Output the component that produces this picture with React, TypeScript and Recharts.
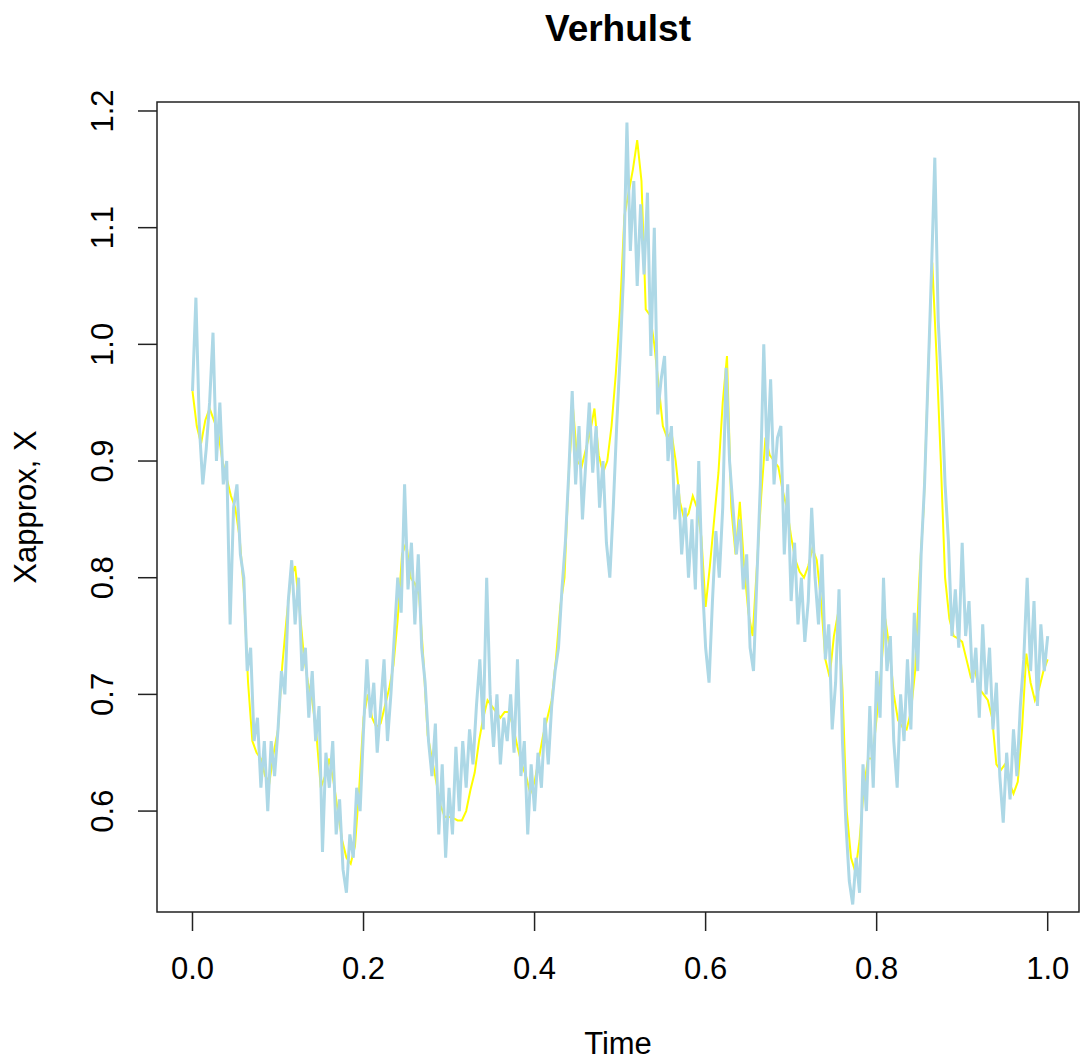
import React from "react";
import { LineChart, Line, XAxis, YAxis, ReferenceArea } from "recharts";

// Euler approximation (light blue), sampled on an even time grid from 0 to 1
const approxValues: number[] = [
  0.96, 1.04, 0.93, 0.88, 0.91, 0.95, 1.01, 0.9, 0.95, 0.88,
  0.9, 0.76, 0.86, 0.88, 0.82, 0.8, 0.72, 0.74, 0.66, 0.68,
  0.62, 0.66, 0.6, 0.66, 0.63, 0.67, 0.72, 0.7, 0.78, 0.815,
  0.76, 0.8, 0.72, 0.74, 0.68, 0.72, 0.66, 0.69, 0.565, 0.65,
  0.62, 0.66, 0.58, 0.61, 0.55, 0.53, 0.58, 0.56, 0.62, 0.6,
  0.67, 0.73, 0.68, 0.71, 0.65, 0.69, 0.73, 0.66, 0.7, 0.75,
  0.8, 0.77, 0.88, 0.79, 0.83, 0.76, 0.82, 0.74, 0.71, 0.66,
  0.63, 0.675, 0.58, 0.64, 0.56, 0.62, 0.58, 0.655, 0.6, 0.66,
  0.62, 0.67, 0.64, 0.69, 0.73, 0.67, 0.8, 0.7, 0.655, 0.7,
  0.64, 0.68, 0.66, 0.7, 0.65, 0.73, 0.63, 0.66, 0.58, 0.64,
  0.6, 0.65, 0.62, 0.68, 0.64, 0.69, 0.72, 0.74, 0.79, 0.83,
  0.89, 0.96, 0.88, 0.93, 0.85, 0.9, 0.95, 0.89, 0.93, 0.86,
  0.9, 0.83, 0.8, 0.86, 0.93, 0.99, 1.06, 1.19, 1.08, 1.14,
  1.05, 1.12, 1.06, 1.13, 0.99, 1.1, 0.94, 0.97, 0.99, 0.9,
  0.93, 0.85, 0.88, 0.82, 0.86, 0.8, 0.85, 0.79, 0.9, 0.8,
  0.74, 0.71, 0.78, 0.84, 0.8, 0.86, 0.98, 0.9, 0.86, 0.82,
  0.85, 0.79, 0.82, 0.74, 0.72, 0.8, 0.88, 1.0, 0.9, 0.97,
  0.88, 0.92, 0.93, 0.82, 0.88, 0.78, 0.83, 0.76, 0.8, 0.745,
  0.78, 0.86, 0.8, 0.76, 0.82, 0.73, 0.76, 0.67, 0.71, 0.79,
  0.66, 0.59, 0.54, 0.52, 0.56, 0.53, 0.64, 0.6, 0.69, 0.62,
  0.72, 0.68, 0.8, 0.72, 0.75, 0.66, 0.62, 0.7, 0.66, 0.73,
  0.67, 0.77, 0.72, 0.82, 0.88, 0.97, 1.06, 1.16, 1.02, 0.96,
  0.88, 0.83, 0.75, 0.79, 0.74, 0.83, 0.75, 0.78, 0.71, 0.74,
  0.68, 0.76, 0.7, 0.74, 0.67, 0.71, 0.63, 0.59, 0.65, 0.61,
  0.67, 0.63, 0.69, 0.73, 0.8, 0.72, 0.78, 0.69, 0.76, 0.72,
  0.75,
];

// Exact solution (yellow), sampled on an even time grid from 0 to 1
const exactValues: number[] = [
  0.96, 0.93, 0.915, 0.935, 0.945, 0.935, 0.925, 0.9, 0.885, 0.87,
  0.86, 0.835, 0.79, 0.71, 0.66, 0.65, 0.645, 0.63, 0.625, 0.65,
  0.67, 0.725, 0.765, 0.8, 0.81, 0.775, 0.735, 0.71, 0.695, 0.665,
  0.62, 0.63, 0.645, 0.625, 0.6, 0.575, 0.56, 0.555, 0.57, 0.62,
  0.68, 0.7, 0.68, 0.672, 0.675, 0.69, 0.705, 0.725, 0.765, 0.82,
  0.83, 0.8, 0.795, 0.785, 0.73, 0.665, 0.645, 0.625, 0.605, 0.595,
  0.595, 0.594, 0.592, 0.592, 0.6, 0.618, 0.633, 0.66, 0.68, 0.695,
  0.69, 0.685, 0.68, 0.685, 0.685, 0.672, 0.655, 0.64, 0.63, 0.615,
  0.625, 0.645, 0.665, 0.68, 0.695, 0.73, 0.775, 0.8, 0.89, 0.945,
  0.9, 0.895, 0.91, 0.925, 0.945, 0.905, 0.89, 0.9, 0.93, 0.975,
  1.03, 1.11, 1.13, 1.15, 1.175, 1.14, 1.03, 1.025, 1.0, 0.965,
  0.93, 0.92, 0.925, 0.9, 0.865, 0.85, 0.855, 0.87, 0.86, 0.835,
  0.775, 0.81, 0.85, 0.89, 0.95, 0.99, 0.86, 0.82, 0.865, 0.81,
  0.77, 0.75, 0.81, 0.87, 0.92, 0.905, 0.9, 0.895, 0.875, 0.86,
  0.835, 0.815, 0.805, 0.8, 0.81, 0.825, 0.815, 0.78, 0.73, 0.715,
  0.75, 0.77, 0.705, 0.6, 0.56, 0.548, 0.575, 0.62, 0.645, 0.645,
  0.68, 0.72, 0.765, 0.74, 0.7, 0.678, 0.672, 0.67, 0.685, 0.72,
  0.8, 0.86, 0.97, 1.07, 0.99, 0.9, 0.8, 0.765, 0.75, 0.748,
  0.745, 0.73, 0.715, 0.72, 0.705, 0.7, 0.695, 0.68, 0.64, 0.635,
  0.64, 0.625, 0.615, 0.625, 0.67, 0.735, 0.71, 0.695, 0.705, 0.72,
  0.73,
];

const xTicks: number[] = [0, 0.2, 0.4, 0.6, 0.8, 1.0];
const yTicks: number[] = [0.6, 0.7, 0.8, 0.9, 1.0, 1.1, 1.2];

const X_DOMAIN: [number, number] = [-0.0415, 1.0366];
const Y_DOMAIN: [number, number] = [0.5135, 1.2077];

// merge both series on a shared time axis (keys in thousandths)
const merged = new Map<number, { t: number; approx?: number; exact?: number }>();
approxValues.forEach((v, i) => {
  const k = Math.round((i * 1000) / (approxValues.length - 1));
  const r = merged.get(k) || { t: k / 1000 };
  r.approx = v;
  merged.set(k, r);
});
exactValues.forEach((v, i) => {
  const k = Math.round((i * 1000) / (exactValues.length - 1));
  const r = merged.get(k) || { t: k / 1000 };
  r.exact = v;
  merged.set(k, r);
});
const data = Array.from(merged.keys())
  .sort((a, b) => a - b)
  .map((k) => merged.get(k)!);

const FONT = "'Liberation Sans', Arial, sans-serif";

const XTick = (props: any) => {
  const { x, payload } = props;
  return (
    <text x={x} y={979} textAnchor="middle" fontSize={31} fontFamily={FONT} fill="#000">
      {Number(payload.value).toFixed(1)}
    </text>
  );
};

const YTick = (props: any) => {
  const { y, payload } = props;
  const bx = 113;
  return (
    <text
      x={bx}
      y={y}
      transform={`rotate(-90, ${bx}, ${y})`}
      textAnchor="middle"
      fontSize={31}
      fontFamily={FONT}
      fill="#000"
    >
      {Number(payload.value).toFixed(1)}
    </text>
  );
};

export default function App() {
  return (
    <div style={{ position: "absolute", left: 0, top: 0, width: 1081, height: 1060, background: "#fff" }}>
      <LineChart
        width={1081}
        height={1060}
        data={data}
        margin={{ top: 102, right: 2, bottom: 0, left: 0 }}
      >
        <XAxis
          dataKey="t"
          type="number"
          domain={X_DOMAIN}
          allowDataOverflow
          ticks={xTicks}
          interval={0}
          height={148}
          axisLine={false}
          tickLine={{ stroke: "#222", strokeWidth: 1.5 }}
          tickSize={19}
          tick={<XTick />}
        />
        <YAxis
          type="number"
          domain={Y_DOMAIN}
          allowDataOverflow
          ticks={yTicks}
          interval={0}
          width={157}
          axisLine={false}
          tickLine={{ stroke: "#222", strokeWidth: 1.5 }}
          tickSize={19}
          tick={<YTick />}
        />
        <Line
          dataKey="exact"
          type="linear"
          stroke="#FFFF00"
          strokeWidth={2}
          dot={false}
          connectNulls
          isAnimationActive={false}
        />
        <Line
          dataKey="approx"
          type="linear"
          stroke="#ADD8E6"
          strokeWidth={3}
          strokeLinejoin="miter"
          dot={false}
          connectNulls
          isAnimationActive={false}
        />
        <ReferenceArea
          x1={X_DOMAIN[0]}
          x2={X_DOMAIN[1]}
          y1={Y_DOMAIN[0]}
          y2={Y_DOMAIN[1]}
          fill="none"
          fillOpacity={0}
          stroke="#222"
          strokeWidth={1.5}
          ifOverflow="visible"
        />
      </LineChart>
      <svg
        width={1081}
        height={1060}
        style={{ position: "absolute", left: 0, top: 0, pointerEvents: "none" }}
      >
        <text x={618} y={41} textAnchor="middle" fontSize={37} fontWeight="bold" fontFamily={FONT} fill="#000">
          Verhulst
        </text>
        <text x={618} y={1054} textAnchor="middle" fontSize={31} fontFamily={FONT} fill="#000">
          Time
        </text>
        <text
          x={36}
          y={507}
          transform="rotate(-90, 36, 507)"
          textAnchor="middle"
          fontSize={31}
          fontFamily={FONT}
          fill="#000"
        >
          Xapprox, X
        </text>
      </svg>
    </div>
  );
}
